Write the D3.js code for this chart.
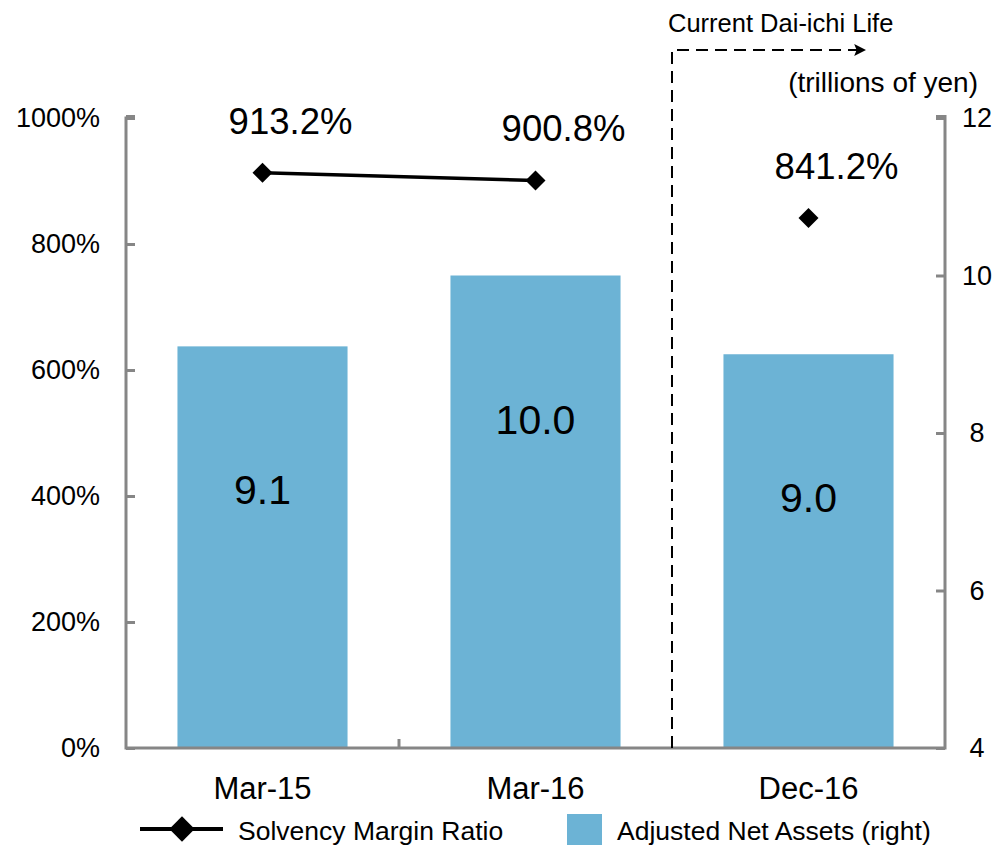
<!DOCTYPE html>
<html>
<head>
<meta charset="utf-8">
<script src="https://cdn.jsdelivr.net/npm/d3@7"></script>
<style>
  html, body { margin: 0; padding: 0; background: #fff; }
  svg { display: block; font-family: "Liberation Sans", Arial, sans-serif; }
</style>
</head>
<body>
<svg id="chart" width="1008" height="845"></svg>
<script>
// ---- data ----
const categories = ["Mar-15", "Mar-16", "Dec-16"];
const solvencyRatio = [913.2, 900.8, 841.2];           // % (left axis)
const adjustedNetAssets = [9.1, 10.0, 9.0];            // trillions of yen (right axis)
const leftTicks = [0, 200, 400, 600, 800, 1000];
const rightTicks = [4, 6, 8, 10, 12];
const seriesNames = ["Solvency Margin Ratio", "Adjusted Net Assets (right)"];
const unitLabel = "(trillions of yen)";
const annotation = "Current Dai-ichi Life";

(function () {
// ---- layout ----
const svg = d3.select("#chart");
const pL = 126, pR = 945, pT = 118, pB = 748;
const axisColor = "#868686";
const barColor = "#6cb3d5";
const ff = "Liberation Sans, Arial, sans-serif";

const x = d3.scaleBand().domain(categories).range([pL, pR])
  .paddingInner(0.377).paddingOuter(0.1885);
const yL = d3.scaleLinear().domain([0, 1000]).range([pB, pT]);
const yR = d3.scaleLinear().domain([4, 12]).range([pB, pT]);

// bars
svg.append("g").selectAll("rect").data(adjustedNetAssets).join("rect")
  .attr("x", (d, i) => x(categories[i]))
  .attr("width", x.bandwidth())
  .attr("y", d => yR(d))
  .attr("height", d => pB - yR(d))
  .attr("fill", barColor);

// bar labels
svg.append("g").selectAll("text").data(adjustedNetAssets).join("text")
  .attr("x", (d, i) => x(categories[i]) + x.bandwidth() / 2)
  .attr("y", d => yR(d) + 158)
  .attr("text-anchor", "middle")
  .attr("font-size", 41)
  .attr("fill", "#000")
  .text(d => d.toFixed(1));

// left axis
const gL = svg.append("g").attr("transform", `translate(${pL},0)`)
  .call(d3.axisLeft(yL).tickValues(leftTicks).tickSizeInner(-9).tickSizeOuter(0)
    .tickPadding(26).tickFormat(d => d + "%"));
gL.select(".domain").remove();
gL.selectAll(".tick line").attr("stroke", axisColor).attr("stroke-width", 3);
gL.selectAll(".tick text").attr("font-size", 27).attr("fill", "#000").attr("font-family", ff);

// right axis
const gR = svg.append("g").attr("transform", `translate(${pR},0)`)
  .call(d3.axisRight(yR).tickValues(rightTicks).tickSizeInner(-9).tickSizeOuter(0)
    .tickPadding(32));
gR.select(".domain").remove();
gR.selectAll(".tick line").attr("stroke", axisColor).attr("stroke-width", 3);
gR.selectAll(".tick text").attr("font-size", 27).attr("fill", "#000").attr("font-family", ff)
  .attr("text-anchor", "middle");

// axis lines
svg.append("path")
  .attr("d", `M${pL},${pT - 1.5}H${pL + 9}M${pL},${pT - 1.5}V${pB}H${pR}V${pT - 1.5}H${pR - 9}`)
  .attr("fill", "none").attr("stroke", axisColor).attr("stroke-width", 3);

// category boundary ticks on x axis
const boundaries = categories.slice(1).map(c => x(c) - x.step() * x.paddingInner() / 2);
svg.append("g").selectAll("line").data(boundaries.slice(0, 1)).join("line")
  .attr("x1", d => d).attr("x2", d => d)
  .attr("y1", pB).attr("y2", pB - 9)
  .attr("stroke", axisColor).attr("stroke-width", 3);

// bottom axis labels
const gB = svg.append("g").attr("transform", `translate(0,${pB})`)
  .call(d3.axisBottom(x).tickSize(0).tickPadding(29));
gB.select(".domain").remove();
gB.selectAll(".tick text").attr("font-size", 31).attr("fill", "#000").attr("font-family", ff);

// dashed separator with arrow
const sepX = boundaries[1];
svg.append("defs").append("marker")
  .attr("id", "arrow").attr("viewBox", "0 0 10 10").attr("refX", 9).attr("refY", 5)
  .attr("markerWidth", 6).attr("markerHeight", 6).attr("markerUnits", "strokeWidth")
  .attr("orient", "auto")
  .append("path").attr("d", "M0,0L10,5L0,10L2,5Z").attr("fill", "#000");
svg.append("path")
  .attr("d", `M${sepX},${pB}V50H865`)
  .attr("fill", "none").attr("stroke", "#000").attr("stroke-width", 2)
  .attr("stroke-dasharray", "12,7")
  .attr("marker-end", "url(#arrow)");
svg.append("text").attr("x", sepX - 4).attr("y", 32)
  .attr("font-size", 25.5).attr("fill", "#000").text(annotation);
svg.append("text").attr("x", 978).attr("y", 92).attr("text-anchor", "end")
  .attr("font-size", 28).attr("fill", "#000").text(unitLabel);

// solvency line (first two connected, Dec-16 separate)
const cx = i => x(categories[i]) + x.bandwidth() / 2;
const line = d3.line().x(d => cx(d.i)).y(d => yL(d.v));
const pts = solvencyRatio.map((v, i) => ({ v, i }));
svg.append("path").datum(pts.slice(0, 2))
  .attr("d", line).attr("fill", "none").attr("stroke", "#000").attr("stroke-width", 3.5);
const diamond = d3.symbol().type(d3.symbolSquare).size(200);
svg.append("g").selectAll("path").data(pts).join("path")
  .attr("d", diamond)
  .attr("transform", d => `translate(${cx(d.i)},${yL(d.v)}) rotate(45)`)
  .attr("fill", "#000");
svg.append("g").selectAll("text").data(pts).join("text")
  .attr("x", d => cx(d.i) + 28)
  .attr("y", d => yL(d.v) - 39)
  .attr("text-anchor", "middle")
  .attr("font-size", 36.5)
  .attr("fill", "#000")
  .text(d => d.v.toFixed(1) + "%");

// legend
const lg = svg.append("g");
lg.append("line").attr("x1", 140).attr("x2", 223).attr("y1", 829).attr("y2", 829)
  .attr("stroke", "#000").attr("stroke-width", 4);
lg.append("path").attr("d", d3.symbol().type(d3.symbolSquare).size(320))
  .attr("transform", "translate(182,829) rotate(45)").attr("fill", "#000");
lg.append("text").attr("x", 238).attr("y", 840).attr("font-size", 26.5).attr("fill", "#000")
  .text(seriesNames[0]);
lg.append("rect").attr("x", 567).attr("y", 814).attr("width", 35).attr("height", 35)
  .attr("fill", barColor);
lg.append("text").attr("x", 617).attr("y", 840).attr("font-size", 26.5).attr("fill", "#000")
  .text(seriesNames[1]);
})();
</script>
</body>
</html>
